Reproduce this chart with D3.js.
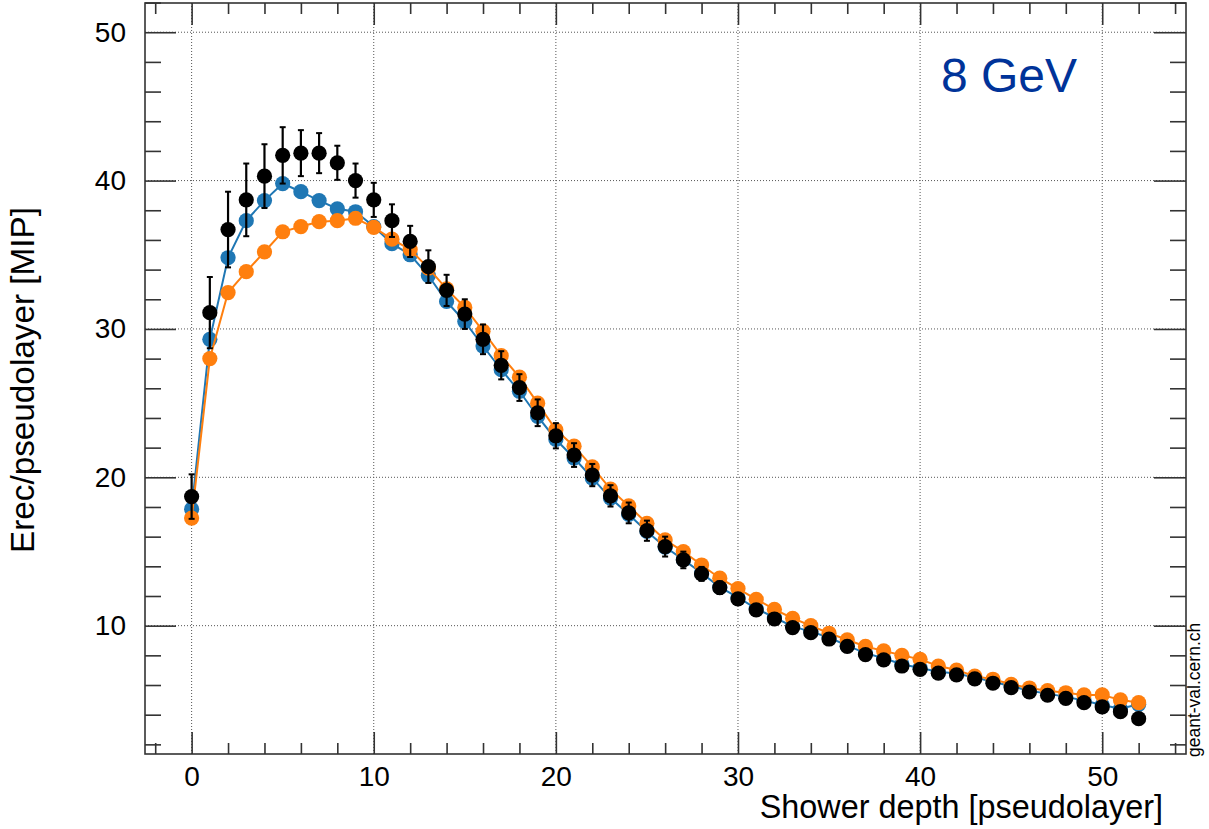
<!DOCTYPE html>
<html>
<head>
<meta charset="utf-8">
<script src="https://cdn.jsdelivr.net/npm/d3@7"></script>
<style>
  html, body { margin: 0; padding: 0; background: #fff; }
  svg { display: block; }
</style>
</head>
<body>
<svg id="chart" width="1209" height="829"></svg>
<script>
// ---------------- data ----------------
const layers = [0,1,2,3,4,5,6,7,8,9,10,11,12,13,14,15,16,17,18,19,20,21,22,23,24,25,26,
  27,28,29,30,31,32,33,34,35,36,37,38,39,40,41,42,43,44,45,46,47,48,49,50,51,52];

const dataValues = [18.7,31.1,36.7,38.7,40.3,41.7,41.85,41.85,41.2,40.0,38.7,37.3,35.9,34.2,
  32.6,31.0,29.3,27.55,26.05,24.35,22.8,21.5,20.15,18.75,17.6,16.4,15.33,14.43,13.49,12.56,
  11.8,11.06,10.45,9.87,9.53,9.1,8.6,8.05,7.7,7.28,7.06,6.8,6.68,6.41,6.12,5.82,5.53,5.31,
  5.1,4.81,4.52,4.2,3.73];

const dataErrors = [1.5,2.4,2.55,2.45,2.15,1.9,1.55,1.35,1.15,1.15,1.15,1.1,1.05,1.1,1.05,
  1.0,1.0,0.95,0.9,0.9,0.85,0.8,0.75,0.72,0.7,0.68,0.67,0.56,0.47,0.42,0.4,0.38,0.36,0.34,
  0.32,0.3,0.28,0.27,0.26,0.25,0.24,0.23,0.22,0.21,0.2,0.19,0.18,0.17,0.17,0.16,0.16,0.15,0.15];

const blueValues = [17.85,29.3,34.8,37.3,38.65,39.8,39.25,38.65,38.1,37.9,36.9,35.75,35.0,
  33.6,31.85,30.5,28.85,27.25,25.8,24.1,22.55,21.3,19.95,18.6,17.5,16.35,15.3,14.45,13.55,
  12.6,11.9,11.15,10.55,9.95,9.6,9.2,8.65,8.15,7.8,7.4,7.15,6.9,6.78,6.5,6.22,5.92,5.62,
  5.42,5.2,4.95,4.65,4.4,4.7];

const orangeValues = [17.25,28.0,32.45,33.86,35.2,36.55,36.9,37.23,37.3,37.46,36.85,36.05,
  35.35,34.1,32.7,31.45,29.85,28.2,26.75,25.0,23.2,22.1,20.7,19.2,18.07,16.9,15.78,14.99,
  14.09,13.2,12.5,11.78,11.1,10.5,10.0,9.49,9.05,8.6,8.3,8.0,7.73,7.28,7.01,6.6,6.39,6.05,
  5.8,5.62,5.48,5.33,5.33,5.0,4.81];

const xMajorTicks = [0,10,20,30,40,50];
const xMinorTicks = [-2,2,4,6,8,12,14,16,18,22,24,26,28,32,34,36,38,42,44,46,48,52,54];
const yMajorTicks = [10,20,30,40,50];
const yMinorTicks = [2,4,6,8,12,14,16,18,22,24,26,28,32,34,36,38,42,44,46,48,52];

const xTitle = "Shower depth [pseudolayer]";
const yTitle = "Erec/pseudolayer [MIP]";
const energyLabel = "8 GeV";
const watermark = "geant-val.cern.ch";

// ---------------- layout ----------------
const FONT = "'Liberation Sans', Arial, Helvetica, sans-serif";
const L = 145, R = 1186, T = 3, B = 754;
const svg = d3.select("#chart");
svg.append("rect").attr("width", 1209).attr("height", 829).attr("fill", "#fff");

const x = d3.scaleLinear().domain([-2.56, 54.6]).range([L, R]);
const y = d3.scaleLinear().domain([1.35, 51.97]).range([B, T]);

// grid
const grid = svg.append("g");
grid.selectAll("line.gx").data(xMajorTicks).join("line")
  .attr("x1", d => x(d)).attr("x2", d => x(d)).attr("y1", T).attr("y2", B)
  .attr("stroke", "#555").attr("stroke-width", 1).attr("stroke-dasharray", "1,2");
grid.selectAll("line.gy").data(yMajorTicks).join("line")
  .attr("x1", L).attr("x2", R).attr("y1", d => y(d)).attr("y2", d => y(d))
  .attr("stroke", "#555").attr("stroke-width", 1).attr("stroke-dasharray", "1,2");

function styleAxis(g, labels) {
  g.select(".domain").remove();
  g.selectAll(".tick line").attr("stroke", "#333").attr("stroke-width", 1.6);
  g.selectAll("text").attr("font-family", FONT).attr("font-size", 28).attr("fill", "#000");
  if (!labels) g.selectAll("text").remove();
}

// bottom
svg.append("g").attr("transform", `translate(0,${B})`)
  .call(d3.axisBottom(x).tickValues(xMajorTicks).tickSizeInner(-22).tickSizeOuter(0).tickPadding(12).tickFormat(d3.format("d")))
  .call(g => styleAxis(g, true));
svg.append("g").attr("transform", `translate(0,${B})`)
  .call(d3.axisBottom(x).tickValues(xMinorTicks).tickSizeInner(-11).tickSizeOuter(0))
  .call(g => styleAxis(g, false));
// top
svg.append("g").attr("transform", `translate(0,${T})`)
  .call(d3.axisTop(x).tickValues(xMajorTicks).tickSizeInner(-22).tickSizeOuter(0))
  .call(g => styleAxis(g, false));
svg.append("g").attr("transform", `translate(0,${T})`)
  .call(d3.axisTop(x).tickValues(xMinorTicks).tickSizeInner(-11).tickSizeOuter(0))
  .call(g => styleAxis(g, false));
// left
svg.append("g").attr("transform", `translate(${L},0)`)
  .call(d3.axisLeft(y).tickValues(yMajorTicks).tickSizeInner(-31).tickSizeOuter(0).tickPadding(19).tickFormat(d3.format("d")))
  .call(g => styleAxis(g, true));
svg.append("g").attr("transform", `translate(${L},0)`)
  .call(d3.axisLeft(y).tickValues(yMinorTicks).tickSizeInner(-16).tickSizeOuter(0))
  .call(g => styleAxis(g, false));
// right
svg.append("g").attr("transform", `translate(${R},0)`)
  .call(d3.axisRight(y).tickValues(yMajorTicks).tickSizeInner(-32).tickSizeOuter(0))
  .call(g => styleAxis(g, false));
svg.append("g").attr("transform", `translate(${R},0)`)
  .call(d3.axisRight(y).tickValues(yMinorTicks).tickSizeInner(-16).tickSizeOuter(0))
  .call(g => styleAxis(g, false));

// frame
svg.append("rect").attr("x", L).attr("y", T).attr("width", R - L).attr("height", B - T)
  .attr("fill", "none").attr("stroke", "#333").attr("stroke-width", 1.6);

// ---------------- series ----------------
const RAD = 7.6;
const line = d3.line().x((d, i) => x(layers[i])).y(d => y(d));

function drawSeries(values, color) {
  const g = svg.append("g");
  g.append("path").datum(values).attr("d", line)
    .attr("fill", "none").attr("stroke", color).attr("stroke-width", 2);
  g.selectAll("circle").data(values).join("circle")
    .attr("cx", (d, i) => x(layers[i])).attr("cy", d => y(d)).attr("r", RAD)
    .attr("fill", color);
}
drawSeries(blueValues, "#1f77b4");
drawSeries(orangeValues, "#ff7f0e");

// data with error bars
const gd = svg.append("g");
const eb = gd.selectAll("g.eb").data(dataValues).join("g");
eb.append("line")
  .attr("x1", (d, i) => x(layers[i])).attr("x2", (d, i) => x(layers[i]))
  .attr("y1", (d, i) => y(d + dataErrors[i])).attr("y2", (d, i) => y(d - dataErrors[i]))
  .attr("stroke", "#000").attr("stroke-width", 2.2);
eb.append("line")
  .attr("x1", (d, i) => x(layers[i]) - 3).attr("x2", (d, i) => x(layers[i]) + 3)
  .attr("y1", (d, i) => y(d + dataErrors[i])).attr("y2", (d, i) => y(d + dataErrors[i]))
  .attr("stroke", "#000").attr("stroke-width", 2);
eb.append("line")
  .attr("x1", (d, i) => x(layers[i]) - 3).attr("x2", (d, i) => x(layers[i]) + 3)
  .attr("y1", (d, i) => y(d - dataErrors[i])).attr("y2", (d, i) => y(d - dataErrors[i]))
  .attr("stroke", "#000").attr("stroke-width", 2);
gd.selectAll("circle").data(dataValues).join("circle")
  .attr("cx", (d, i) => x(layers[i])).attr("cy", d => y(d)).attr("r", RAD)
  .attr("fill", "#000");

// ---------------- texts ----------------
svg.append("text").attr("x", 1163).attr("y", 818).attr("text-anchor", "end")
  .attr("font-family", FONT).attr("font-size", 32.4).attr("fill", "#000").text(xTitle);
svg.append("text").attr("transform", "translate(34,207) rotate(-90)").attr("text-anchor", "end")
  .attr("font-family", FONT).attr("font-size", 33.3).attr("fill", "#000").text(yTitle);
svg.append("text").attr("x", 941).attr("y", 92)
  .attr("font-family", FONT).attr("font-size", 48).attr("fill", "#003399").text(energyLabel);
svg.append("text").attr("transform", "translate(1200,757) rotate(-90)")
  .attr("font-family", FONT).attr("font-size", 17.5).attr("fill", "#000").text(watermark);
</script>
</body>
</html>
